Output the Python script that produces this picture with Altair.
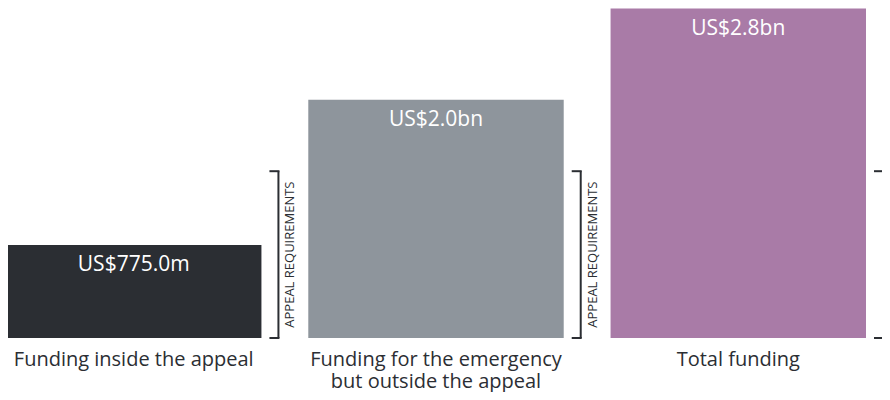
import altair as alt
import pandas as pd

category_labels = [
    "Funding inside the appeal",
    "Funding for the emergency|but outside the appeal",
    "Total funding",
]
funding_musd = [775.0, 1985.0, 2745.0]
value_labels = ["US$775.0m", "US$2.0bn", "US$2.8bn"]
bar_colors = ["#2b2e33", "#8e959c", "#a97ba7"]
appeal_requirement_musd = 1390.0
bracket_label = "APPEAL REQUIREMENTS"

df = pd.DataFrame({
    "cat": category_labels,
    "value": funding_musd,
    "label": value_labels,
    "req": [appeal_requirement_musd] * 3,
    "zero": [0.0] * 3,
    "mid": [appeal_requirement_musd / 2] * 3,
    "blabel": [bracket_label] * 3,
})

FONT = "Open Sans"
DARK = "#2b2e33"

xscale = alt.Scale(domain=category_labels, range=[-2, 858], paddingInner=0.155, paddingOuter=0)
yscale = alt.Scale(domain=[0, 2750])
xaxis = alt.Axis(
    title=None, domain=False, ticks=False, tickSize=0, labelAngle=0,
    labelFontSize=20, labelFont=FONT, labelColor=DARK, labelPadding=11,
    labelLineHeight=22, labelLimit=400, labelExpr="split(datum.label, '|')",
    grid=False,
)

base = alt.Chart(df)

bars = base.mark_bar().encode(
    x=alt.X("cat:N", scale=xscale, axis=xaxis, sort=category_labels),
    y=alt.Y("value:Q", scale=yscale, axis=None),
    color=alt.Color("cat:N", scale=alt.Scale(domain=category_labels, range=bar_colors), legend=None),
)

vals = base.mark_text(color="white", fontSize=21, font=FONT, baseline="alphabetic", dy=26).encode(
    x=alt.X("cat:N", scale=xscale, axis=xaxis, sort=category_labels),
    y=alt.Y("value:Q", scale=yscale, axis=None),
    text="label:N",
)

vline = base.mark_rule(color=DARK, strokeWidth=2, xOffset=17).encode(
    x=alt.X("cat:N", scale=xscale, axis=xaxis, sort=category_labels, bandPosition=1),
    y=alt.Y("zero:Q", scale=yscale, axis=None),
    y2="req:Q",
)

top_tick = base.mark_rule(color=DARK, strokeWidth=2, xOffset=8, x2Offset=18).encode(
    x=alt.X("cat:N", scale=xscale, axis=xaxis, sort=category_labels, bandPosition=1),
    x2=alt.X2("cat:N", bandPosition=1),
    y=alt.Y("req:Q", scale=yscale, axis=None),
)

bot_tick = base.mark_rule(color=DARK, strokeWidth=2, xOffset=8, x2Offset=18).encode(
    x=alt.X("cat:N", scale=xscale, axis=xaxis, sort=category_labels, bandPosition=1),
    x2=alt.X2("cat:N", bandPosition=1),
    y=alt.Y("zero:Q", scale=yscale, axis=None),
)

btext = base.mark_text(color=DARK, fontSize=13, font=FONT, angle=270, align="center",
                       baseline="middle", xOffset=29).encode(
    x=alt.X("cat:N", scale=xscale, axis=xaxis, sort=category_labels, bandPosition=1),
    y=alt.Y("mid:Q", scale=yscale, axis=None),
    text="blabel:N",
)

chart = alt.layer(bars, vals, vline, top_tick, bot_tick, btext).properties(
    width=858, height=330,
    autosize=alt.AutoSizeParams(type="none"),
    padding={"left": 0, "top": 0, "right": 16, "bottom": 54},
).configure_view(stroke=None)

chart.save("out.html", embed_options={"renderer": "svg", "actions": False})
